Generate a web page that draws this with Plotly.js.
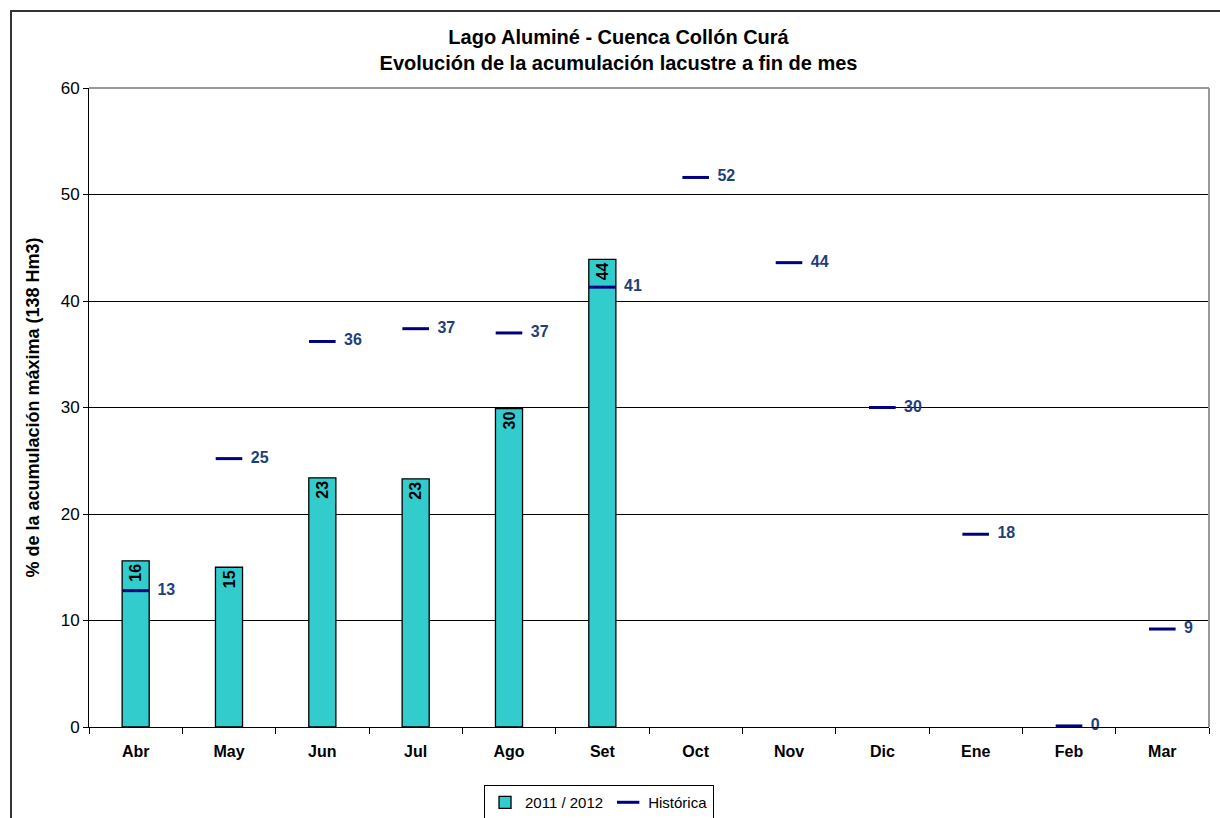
<!DOCTYPE html>
<html>
<head>
<meta charset="utf-8">
<script src="https://cdn.plot.ly/plotly-3.0.1.min.js"></script>
<style>
html,body{margin:0;padding:0;overflow:hidden;background:#fff;}
#frame{position:absolute;left:10px;top:10px;width:1300px;height:900px;border-left:2px solid #333;border-top:2px solid #333;box-sizing:border-box;}
#chart{position:absolute;left:0;top:0;width:1220px;height:818px;}
</style>
</head>
<body>
<div id="frame"></div>
<div id="chart"></div>
<script>
const months = ["Abr","May","Jun","Jul","Ago","Set","Oct","Nov","Dic","Ene","Feb","Mar"];
const season2011 = [15.6, 15.0, 23.4, 23.3, 29.9, 43.9, null, null, null, null, null, null];
const historica = [12.8, 25.2, 36.2, 37.4, 37.0, 41.3, 51.6, 43.6, 30.0, 18.1, 0.1, 9.2];
const yTicks = [0,10,20,30,40,50,60];

const barTrace = {
  type: 'bar', name: '2011 / 2012', x: months, y: season2011,
  width: 0.29,
  marker: {color: '#33CCCC', line: {color: '#000', width: 1.3}},
  texttemplate: '%{y:.0f}', textposition: 'inside', insidetextanchor: 'end',
  textangle: -90, textfont: {family: 'Liberation Sans, Arial', size: 16, color: '#000', weight: 'bold'},
  constraintext: 'none', hoverinfo: 'skip'
};
const histTrace = {
  type: 'scatter', mode: 'markers+text', name: 'Histórica', x: months, y: historica,
  marker: {symbol: 'line-ew', size: 19, line: {color: '#000080', width: 3}, color: '#000080'},
  texttemplate: '  %{y:.0f}', textposition: 'middle right',
  textfont: {family: 'Liberation Sans, Arial', size: 16, color: '#1F3F7A', weight: 'bold'},
  cliponaxis: false, hoverinfo: 'skip'
};

const layout = {
  width: 1220, height: 818,
  margin: {l: 89, r: 11, t: 88, b: 91},
  paper_bgcolor: 'rgba(0,0,0,0)', plot_bgcolor: 'rgba(0,0,0,0)',
  font: {family: 'Liberation Sans, Arial', size: 16, color: '#000'},
  title: {text: 'Lago Aluminé - Cuenca Collón Curá<br>Evolución de la acumulación lacustre a fin de mes',
          font: {size: 20, weight: 'bold', color: '#000'}, x: 0.507, xref: 'container', xanchor: 'center',
          y: 0.946, yref: 'container', yanchor: 'top'},
  showlegend: true,
  legend: {orientation: 'h', x: 0.491, xref: 'container', xanchor: 'center', y: 0.0403, yref: 'container', yanchor: 'top',
           bordercolor: '#000', borderwidth: 1, font: {size: 15}, bgcolor: '#fff', traceorder: 'normal',
           itemwidth: 30, tracegroupgap: 0},
  xaxis: {type: 'category', range: [-0.5, 11.5], showline: true, linecolor: '#000', linewidth: 1, automargin: false,
          ticks: 'outside', ticklen: 6, tickcolor: '#000', tickson: 'boundaries', ticklabelstandoff: 10,
          tickfont: {size: 16, weight: 'bold'}, showgrid: false, mirror: false, fixedrange: true},
  yaxis: {range: [0, 60], tickvals: yTicks, showline: true, linecolor: '#000', linewidth: 1, automargin: false,
          ticks: 'outside', ticklen: 5, tickcolor: '#000', showgrid: true, gridcolor: '#000', gridwidth: 1,
          tickfont: {size: 17}, zeroline: false,
          title: {text: '% de la acumulación máxima (138 Hm3)', font: {size: 18, weight: 'bold'}, standoff: 16}},
  shapes: [
    {type: 'line', xref: 'paper', yref: 'paper', x0: 0, x1: 1, y0: 1, y1: 1, line: {color: '#999', width: 2}},
    {type: 'line', xref: 'paper', yref: 'paper', x0: 1, x1: 1, y0: 0, y1: 1, line: {color: '#999', width: 2}}
  ],
  bargap: 0.7
};
Plotly.newPlot('chart', [barTrace, histTrace], layout, {displayModeBar: false, staticPlot: true});
</script>
</body>
</html>
